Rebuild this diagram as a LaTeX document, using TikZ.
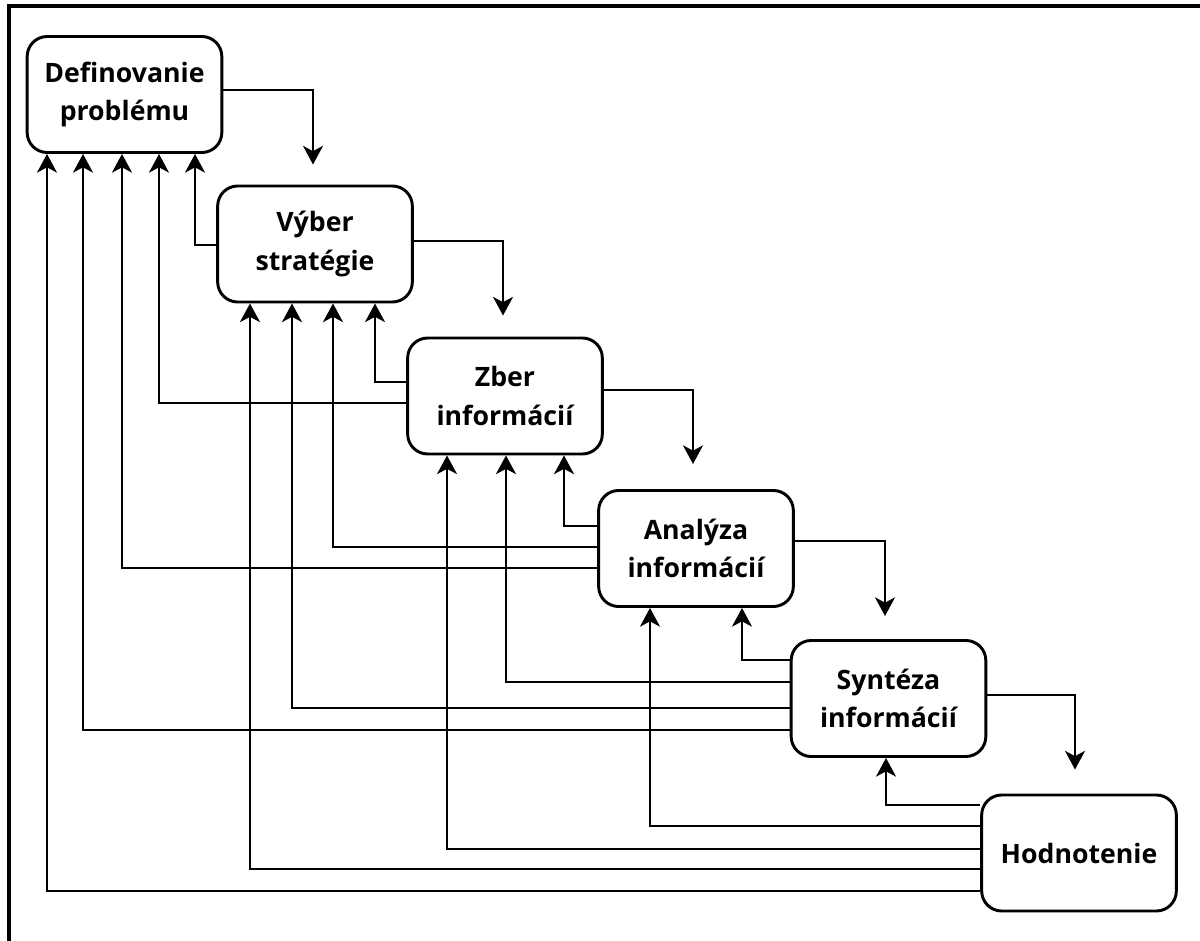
\documentclass[tikz,border=0pt]{standalone}
\usepackage{fontspec}
\setmainfont{Open Sans}
\usetikzlibrary{arrows.meta,calc}
\begin{document}
\begin{tikzpicture}[x=0.75pt,y=-0.75pt,
  box/.style={draw, line width=2.2pt, rounded corners=15pt, minimum width=146pt, minimum height=87pt,
    align=center, inner sep=0pt, font=\bfseries\fontsize{20pt}{29pt}\selectfont},
  link/.style={line width=1.8pt, -{Stealth[length=14pt,width=15pt,inset=4pt]}},
  frame/.style={line width=2.4pt}
]
\useasboundingbox (0,0) rectangle (1200,941);
\draw[frame] (9,941) -- (9,6) -- (1200,6);

\node[box] (b1) at (124.5,94.5) {Definovanie\\problému};
\node[box] (b2) at (315,244) {Výber\\stratégie};
\node[box] (b3) at (505,396) {Zber\\informácií};
\node[box] (b4) at (696,548.5) {Analýza\\informácií};
\node[box] (b5) at (888.5,698.5) {Syntéza\\informácií};
\node[box] (b6) at (1079,853) {Hodnotenie};

% forward arrows
\draw[link] (b1.east |- 0,90)  -| ($(b2.north)+(-2,-20)$);
\draw[link] (b2.east |- 0,241) -| ($(b3.north)+(-2,-21)$);
\draw[link] (b3.east |- 0,390) -| ($(b4.north)+(-3,-25)$);
\draw[link] (b4.east |- 0,541) -| ($(b5.north)+(-3.5,-23)$);
\draw[link] (b5.east |- 0,695) -| ($(b6.north)+(-4,-24)$);

% feedback arrows
\draw[link] (b2.west |- 0,245) -| (195,0 |- b1.south);
\draw[link] (b3.west |- 0,382) -| (375,0 |- b2.south);
\draw[link] (b3.west |- 0,403) -| (159,0 |- b1.south);
\draw[link] (b4.west |- 0,526) -| (564,0 |- b3.south);
\draw[link] (b4.west |- 0,547) -| (333,0 |- b2.south);
\draw[link] (b4.west |- 0,568) -| (122,0 |- b1.south);
\draw[link] (b5.west |- 0,660) -| (742,0 |- b4.south);
\draw[link] (b5.west |- 0,682) -| (506,0 |- b3.south);
\draw[link] (b5.west |- 0,708) -| (292,0 |- b2.south);
\draw[link] (b5.west |- 0,730) -| (83,0 |- b1.south);
\draw[link] (b6.west |- 0,805) -| (886,0 |- b5.south);
\draw[link] (b6.west |- 0,826) -| (650,0 |- b4.south);
\draw[link] (b6.west |- 0,849) -| (447,0 |- b3.south);
\draw[link] (b6.west |- 0,869) -| (250,0 |- b2.south);
\draw[link] (b6.west |- 0,891) -| (47,0 |- b1.south);
\end{tikzpicture}
\end{document}
